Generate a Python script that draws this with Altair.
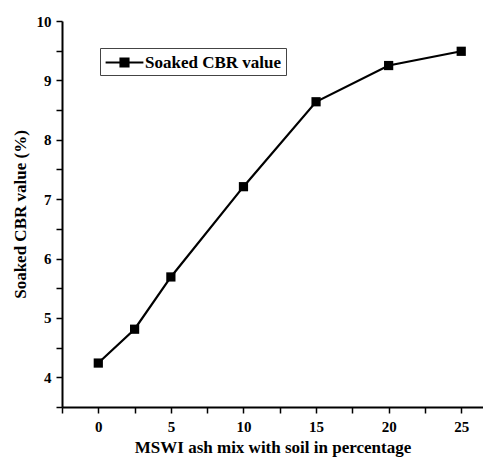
import altair as alt
import pandas as pd

ash_pct = [0, 2.5, 5, 10, 15, 20, 25]
cbr = [4.24, 4.81, 5.69, 7.21, 8.64, 9.25, 9.49]
series = ["Soaked CBR value"] * len(ash_pct)

x_ticks = [-2.5, 0, 2.5, 5, 7.5, 10, 12.5, 15, 17.5, 20, 22.5, 25]
y_ticks = [3.5, 4, 4.5, 5, 5.5, 6, 6.5, 7, 7.5, 8, 8.5, 9, 9.5, 10]

df = pd.DataFrame({"x": ash_pct, "y": cbr, "s": series})

FONT = "Liberation Serif"

color = alt.Color(
    "s:N",
    scale=alt.Scale(range=["black"]),
    legend=alt.Legend(
        title=None,
        orient="none",
        legendX=38,
        legendY=27,
        strokeColor="#444",
        padding=4,
        symbolType="M-2.1,0L2.1,0M-0.44,-0.44L0.44,-0.44L0.44,0.44L-0.44,0.44Z",
        symbolSize=324,
        symbolOffset=10,
        labelOffset=10,
        symbolStrokeWidth=2.2,
        symbolFillColor="black",
        symbolStrokeColor="black",
        labelFont=FONT,
        labelFontWeight="bold",
        labelFontSize=17,
        labelColor="black",
        labelLimit=300,
    ),
)

x = alt.X(
    "x:Q",
    scale=alt.Scale(domain=[-2.5, 26.5], nice=False, zero=False),
    axis=alt.Axis(
        values=x_ticks,
        labelExpr="datum.value % 5 == 0 ? datum.label : ''",
        title="MSWI ash mix with soil in percentage",
        labelPadding=6,
        titleY=49,
        titleBaseline="bottom",
    ),
)
y = alt.Y(
    "y:Q",
    scale=alt.Scale(domain=[3.5, 10], nice=False, zero=False),
    axis=alt.Axis(
        values=y_ticks,
        labelExpr="datum.value % 1 == 0 ? '' + datum.value : ''",
        title="Soaked CBR value (%)",
        labelPadding=5,
        titlePadding=7,
    ),
)

base = alt.Chart(df)
line = base.mark_line(color="black", strokeWidth=2.2).encode(x=x, y=y, color=color)
pts = base.mark_square(size=85, opacity=1, color="black").encode(x=x, y=y, color=color)

chart = (
    (line + pts)
    .properties(
        width=421,
        height=386,
        autosize=alt.AutoSizeParams(type="none"),
        padding={"left": 54, "top": 13, "right": 0, "bottom": 51},
    )
    .configure_view(stroke=None)
    .configure_axis(
        grid=False,
        domainColor="black",
        domainWidth=2,
        tickColor="black",
        tickWidth=1.5,
        tickSize=6,
        labelFont=FONT,
        labelFontWeight="bold",
        labelFontSize=15,
        labelColor="black",
        titleFont=FONT,
        titleFontWeight="bold",
        titleFontSize=17,
        titleColor="black",
    )
)

chart.save("out.html", embed_options={"renderer": "svg", "actions": False})
